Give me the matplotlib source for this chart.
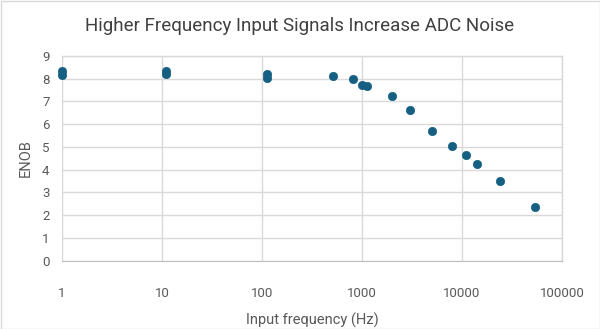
import matplotlib
matplotlib.use("Agg")
import matplotlib.pyplot as plt
from matplotlib.patches import Rectangle
from matplotlib.ticker import FixedLocator, FixedFormatter, NullLocator

freq_hz = [1, 1, 11, 11, 112, 112, 509, 813, 1000, 1114, 2010, 3000, 5012, 8000, 10965, 14125, 24000, 54000]
enob = [8.35, 8.15, 8.35, 8.22, 8.2, 8.03, 8.1, 8.0, 7.71, 7.68, 7.24, 6.61, 5.70, 5.05, 4.63, 4.25, 3.51, 2.35]

x_ticks = [1, 10, 100, 1000, 10000, 100000]
x_tick_labels = ["1", "10", "100", "1000", "10000", "100000"]
y_ticks = list(range(0, 10))

title = "Higher Frequency Input Signals Increase ADC Noise"
x_label = "Input frequency (Hz)"
y_label = "ENOB"

plt.rcParams['font.family'] = ['Roboto', 'DejaVu Sans']
text_color = "#595959"
grid_color = "#d9d9d9"
marker_color = "#156082"

fig = plt.figure(figsize=(6.0, 3.29), dpi=100)
ax = fig.add_axes([62/600, 1-260.7/329, 500/600, (260.7-56)/329])

ax.scatter(freq_hz, enob, s=36, color=marker_color, edgecolors=marker_color, linewidths=0.5, zorder=3, clip_on=False)

ax.set_xscale("log")
ax.set_xlim(1, 100000)
ax.set_ylim(0, 9)
ax.xaxis.set_major_locator(FixedLocator(x_ticks))
ax.xaxis.set_major_formatter(FixedFormatter(x_tick_labels))
ax.xaxis.set_minor_locator(NullLocator())
ax.set_yticks(y_ticks)

ax.grid(True, color=grid_color, linewidth=1.0, zorder=0)
ax.set_axisbelow(True)
for side in ["top", "right"]:
    ax.spines[side].set_color(grid_color)
    ax.spines[side].set_linewidth(1.0)
ax.spines["left"].set_color(grid_color)
ax.spines["bottom"].set_color("#bfbfbf")
ax.tick_params(axis="both", length=0, colors=text_color, labelsize=9.5)
ax.tick_params(axis="x", pad=19)
ax.tick_params(axis="y", pad=9)

ax.set_xlabel(x_label, color=text_color, fontsize=10.5, labelpad=9)
ax.set_ylabel(y_label, color=text_color, fontsize=10.5, labelpad=7)
fig.text(0.5, 1-26/329, title, ha="center", va="center", color="#404040", fontsize=13.5)

fig.patches.append(Rectangle((0.5/600, 0.5/329), 599/600, 328/329, transform=fig.transFigure,
                             fill=False, edgecolor="#d9d9d9", linewidth=1.0))

fig.savefig("out.png", dpi=100, facecolor="white")
